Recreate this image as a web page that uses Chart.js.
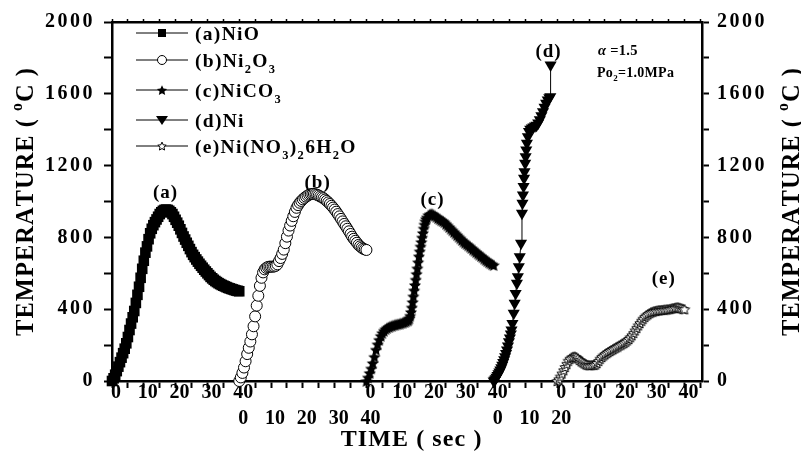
<!DOCTYPE html>
<html><head><meta charset="utf-8">
<script src="https://cdn.jsdelivr.net/npm/chart.js@4.4.1/dist/chart.umd.min.js"></script>
<style>html,body{margin:0;padding:0;background:#fff;}canvas{display:block;}</style>
</head><body>
<canvas id="c" width="801" height="452"></canvas>
<script>
// ---------------- data ----------------
const seriesNames = ['(a)NiO', '(b)Ni_2O_3', '(c)NiCO_3', '(d)Ni', '(e)Ni(NO_3)_26H_2O'];
const peakLabels = ['(a)', '(b)', '(c)', '(d)', '(e)'];
const runStart = [0, 40, 80, 120, 140];   // where each run begins on the shared time axis (s)
const sampleStep = 0.5;                    // s between readings for runs a, b, e

const tempA = [0,15,35,55,80,105,130,155,180,210,245,284,320,355,390,435,480,525,575,625,670,715,750,790,823,848,868,885,900,915,930,940,948,953,955,953,948,940,930,915,898,882,865,845,825,805,788,770,753,735,718,703,690,677,665,653,642,631,620,610,600,590,580,572,564,557,551,545,540,535,531,527,523,519,516,513,510,507,504,502,500];
const tempB = [0,20,45,75,110,150,185,220,260,305,360,420,475,530,575,605,622,630,635,637,637,637,638,642,650,668,685,708,732,768,804,838,866,892,918,942,965,980,993,1003,1012,1020,1027,1033,1038,1041,1042,1042,1040,1037,1033,1028,1023,1018,1011,1003,995,986,976,966,955,943,930,917,903,889,875,862,848,834,819,804,792,781,770,758,750,743,737,733,730];
const timeC = [0,0.5,1,1.5,2,2.5,3,3.5,4,4.5,5,5.5,6,6.5,7,7.5,8,8.5,9,9.5,10,10.5,11,11.5,12,12.5,13,
  13.25,13.5,13.75,14,14.25,14.5,14.75,15,15.25,15.5,15.75,16,16.25,16.5,16.75,17,17.25,17.5,17.75,18,18.25,18.5,18.75,19,
  19.5,20,20.5,21,21.5,22,22.5,23,23.5,24,24.5,25,25.5,26,26.5,27,27.5,28,28.5,29,29.5,30,30.5,31,31.5,32,32.5,33,33.5,34,34.5,35,35.5,36,36.5,37,37.5,38,38.5,39,39.5,40];
const tempC = [0,20,45,70,100,135,175,205,230,252,268,280,289,296,301,305,308,311,314,316,318,320,323,326,329,333,338,
  343,350,364,385,410,440,472,505,535,565,597,628,662,695,723,750,775,800,825,850,872,890,903,912,
  925,930,932,928,922,915,908,902,896,892,885,876,867,858,849,840,831,822,813,804,795,786,777,770,763,756,749,741,733,726,718,711,704,697,690,682,675,668,662,656,651,646];
const timeD = [0,0.3,0.6,0.9,1.2,1.5,1.8,2.1,2.4,2.7,3.0,3.3,3.6,3.9,4.2,4.5,4.8,5.1,5.4,5.6,5.9,6.3,6.6,6.9,7.3,7.6,7.9,8.2,8.6,8.9,9.05,9.2,9.4,9.55,9.7,9.9,10.05,10.25,10.45,10.75,11.1,11.5,12.0,12.5,13.0,13.5,14.0,14.5,15.0,15.5,16.0,16.5,17.0,17.5,17.8,17.9];
const tempD = [0,6,13,21,30,40,50,61,74,88,103,118,135,153,173,195,218,240,262,284,321,377,433,488,544,581,637,692,767,934,990,1036,1083,1129,1166,1213,1250,1287,1324,1361,1390,1402,1410,1415,1420,1425,1438,1455,1478,1500,1525,1548,1565,1578,1584,1760];
const tempE = [0,10,25,42,60,78,96,113,124,131,135,136,133,126,117,110,104,98,93,90,88,88,89,90,92,100,112,124,134,142,149,155,161,167,172,177,182,187,192,198,203,208,213,219,226,234,244,255,268,282,296,310,323,336,347,357,365,372,378,383,386,389,391,393,394,395,396,397,398,399,400,402,404,406,408,410,410,408,405,402,400];

const xTickValues = [0,10,20,30,40,50,60,70,80,90,100,110,120,130,140,150,160,170,180];
const xTickRow1   = ['0','10','20','30','40','','','','0','10','20','30','40','','0','10','20','30','40'];
const xTickRow2   = ['','','','','0','10','20','30','40','','','','0','10','20','','','',''];
const yTickValues = [0,400,800,1200,1600,2000];
const conditionLines = ['α =1.5', 'Po_2=1.0MPa'];
const xTitle = 'TIME ( sec )';
const yTitle = 'TEMPERATURE ( ^oC )';

// ---------------- helpers ----------------
const FF = "'Liberation Serif','Times New Roman',serif";

function makeStar(d, fill, stroke, lw) {
  const c = document.createElement('canvas'); c.width = d; c.height = d;
  const g = c.getContext('2d');
  const cx = d / 2, cy = d / 2 + d * 0.05, R = d / 2 - 0.6, r = R * 0.47;
  g.beginPath();
  for (let i = 0; i < 10; i++) {
    const rr = i % 2 ? r : R, a = -Math.PI / 2 + i * Math.PI / 5;
    g.lineTo(cx + rr * Math.cos(a), cy + rr * Math.sin(a));
  }
  g.closePath();
  g.fillStyle = fill; g.fill();
  if (stroke) { g.strokeStyle = stroke; g.lineWidth = lw; g.stroke(); }
  return c;
}
const starFilled = makeStar(14, '#000');
const starOpen = makeStar(12, '#fff', '#000', 1);
const starFilledLeg = makeStar(12, '#000');
const starOpenLeg = makeStar(10, '#fff', '#000', 1);

function drawRich(ctx, str, x, y, size, spacing, align) {
  const segs = [];
  for (let i = 0; i < str.length; i++) {
    let ch = str[i], kind = 'n';
    if (ch === '_' || ch === '^') { kind = ch === '_' ? 'sub' : 'sup'; i++; ch = str[i]; }
    segs.push({ ch, kind });
  }
  const fontFor = s => {
    const sz = s.kind === 'n' ? size : size * 0.64;
    return (s.ch === 'α' ? 'italic ' : '') + 'bold ' + sz + 'px ' + FF;
  };
  let w = 0;
  segs.forEach(s => { ctx.font = fontFor(s); s.w = ctx.measureText(s.ch).width; w += s.w + spacing; });
  w -= spacing;
  let cx = align === 'center' ? x - w / 2 : x;
  ctx.textBaseline = 'alphabetic';
  ctx.textAlign = 'left';
  ctx.fillStyle = '#000';
  segs.forEach(s => {
    ctx.font = fontFor(s);
    const dy = s.kind === 'sub' ? size * 0.3 : s.kind === 'sup' ? -size * 0.42 : 0;
    ctx.fillText(s.ch, cx, y + dy);
    cx += s.w + spacing;
  });
  return w;
}

const runSeries = (start, temps) => temps.map((v, i) => ({ x: start + i * sampleStep, y: v }));
const pairSeries = (start, times, temps) => times.map((t, i) => ({ x: start + t, y: temps[i] }));

// ---------------- decorations plugin ----------------
const deco = {
  id: 'deco',
  beforeDraw(chart) {
    ['y', 'y2'].forEach(id => {
      const s = chart.scales[id];
      if (s && !s._spaced) {
        const orig = s.drawLabels.bind(s);
        s.drawLabels = function (area) {
          const ctx = this.ctx; ctx.save(); ctx.letterSpacing = '2.5px'; orig(area); ctx.restore();
        };
        s._spaced = true;
      }
    });
  },
  afterDraw(chart) {
    const ctx = chart.ctx, xs = chart.scales.x, ys = chart.scales.y;
    ctx.save();
    // axis titles
    drawRich(ctx, xTitle, 411, 446, 24, 1.1, 'center');
    [24, 790].forEach(cx => {
      ctx.save(); ctx.translate(cx, 202); ctx.rotate(-Math.PI / 2);
      drawRich(ctx, yTitle, 0, 8.5, 24.5, 1.0, 'center');
      ctx.restore();
    });
    // legend
    const rows = [33, 60, 90, 120, 146];
    rows.forEach((ry, i) => {
      ctx.strokeStyle = '#000'; ctx.lineWidth = 1;
      ctx.beginPath(); ctx.moveTo(136, ry); ctx.lineTo(188, ry); ctx.stroke();
      const mx = 162;
      ctx.fillStyle = '#000';
      if (i === 0) ctx.fillRect(mx - 4, ry - 4, 8, 8);
      if (i === 1) { ctx.beginPath(); ctx.arc(mx, ry, 4.5, 0, Math.PI * 2); ctx.fillStyle = '#fff'; ctx.fill(); ctx.stroke(); }
      if (i === 2) ctx.drawImage(starFilledLeg, mx - 6, ry - 6);
      if (i === 3) { ctx.beginPath(); ctx.moveTo(mx - 6, ry - 4); ctx.lineTo(mx + 6, ry - 4); ctx.lineTo(mx, ry + 5); ctx.closePath(); ctx.fill(); }
      if (i === 4) ctx.drawImage(starOpenLeg, mx - 5, ry - 5);
      drawRich(ctx, seriesNames[i], 195, ry + 7, 19.5, 1.3, 'left');
    });
    // peak labels (placed in data space)
    const peakAt = [[16.7, 1053], [64.5, 1114], [100.6, 1019], [137.1, 1844], [173.3, 579]];
    peakAt.forEach((p, i) => {
      drawRich(ctx, peakLabels[i], xs.getPixelForValue(p[0]), ys.getPixelForValue(p[1]) + 6.5, 19, 1, 'center');
    });
    // conditions
    drawRich(ctx, conditionLines[0], 598, 55, 14.5, 0.3, 'left');
    drawRich(ctx, conditionLines[1], 597, 77, 14, 0.3, 'left');
    ctx.restore();
  }
};

// ---------------- chart ----------------
const axisFont = { family: FF, size: 20, weight: 'bold', lineHeight: 1.3 };
const border = { display: true, color: '#000', width: 2.5 };

new Chart(document.getElementById('c'), {
  type: 'scatter',
  data: {
    datasets: [
      { label: seriesNames[0], data: runSeries(runStart[0], tempA), showLine: true, borderColor: '#000', borderWidth: 1,
        pointStyle: 'rect', pointRadius: 7.5, backgroundColor: '#000', pointBorderWidth: 0, clip: false },
      { label: seriesNames[1], data: runSeries(runStart[1], tempB), showLine: true, borderColor: '#000', borderWidth: 1,
        pointStyle: 'circle', pointRadius: 5.5, pointBackgroundColor: '#fff', pointBorderColor: '#000', pointBorderWidth: 1, clip: false },
      { label: seriesNames[2], data: pairSeries(runStart[2], timeC, tempC), showLine: true, borderColor: '#000', borderWidth: 1,
        pointStyle: starFilled, pointRadius: 5, clip: false },
      { label: seriesNames[3], data: pairSeries(runStart[3], timeD, tempD), showLine: true, borderColor: '#000', borderWidth: 1,
        pointStyle: 'triangle', pointRotation: 180, pointRadius: 7, backgroundColor: '#000', pointBackgroundColor: '#000', pointBorderWidth: 0, clip: false },
      { label: seriesNames[4], data: runSeries(runStart[4], tempE), showLine: true, borderColor: '#000', borderWidth: 1,
        pointStyle: starOpen, pointRadius: 5, clip: false }
    ]
  },
  options: {
    responsive: false, animation: false, devicePixelRatio: 1,
    layout: { padding: 0 },
    plugins: { legend: { display: false }, tooltip: { enabled: false } },
    scales: {
      x: {
        type: 'linear', position: 'bottom', min: 0, max: 185.5,
        afterFit: s => { s.height = 71; },
        border,
        grid: { drawOnChartArea: false, drawTicks: true, tickLength: 7, tickWidth: 2, tickColor: '#000' },
        ticks: {
          stepSize: 5, includeBounds: false, autoSkip: false, maxRotation: 0, minRotation: 0,
          padding: -8, labelOffset: 4, color: '#000', font: axisFont,
          callback: v => { const i = xTickValues.indexOf(v); return i < 0 ? '' : [xTickRow1[i], xTickRow2[i]]; }
        }
      },
      xTop: {
        type: 'linear', position: 'top', min: 0, max: 185.5,
        afterFit: s => { s.height = 22; },
        border,
        grid: { drawOnChartArea: false, drawTicks: true, tickLength: 3, tickWidth: 1.5, tickColor: '#000' },
        ticks: { stepSize: 5, includeBounds: false, autoSkip: false, maxRotation: 0, display: true, font: { size: 1 }, color: 'rgba(0,0,0,0)', callback: () => '' }
      },
      y: {
        type: 'linear', position: 'left', min: 0, max: 2000,
        afterFit: s => { s.width = 112; },
        border,
        grid: { drawOnChartArea: false, drawTicks: true, tickLength: 8, tickWidth: 2, tickColor: '#000' },
        ticks: { stepSize: 200, autoSkip: false, padding: 9, color: '#000', font: { family: FF, size: 20, weight: 'bold' },
          callback: v => yTickValues.includes(v) ? String(v) : '' }
      },
      y2: {
        type: 'linear', position: 'right', min: 0, max: 2000,
        afterFit: s => { s.width = 99; },
        border,
        grid: { drawOnChartArea: false, drawTicks: true, tickLength: 7, tickWidth: 2, tickColor: '#000' },
        ticks: { stepSize: 200, autoSkip: false, padding: 8, color: '#000', font: { family: FF, size: 20, weight: 'bold' },
          callback: v => yTickValues.includes(v) ? String(v) : '' }
      }
    }
  },
  plugins: [deco]
});
</script>
</body></html>
